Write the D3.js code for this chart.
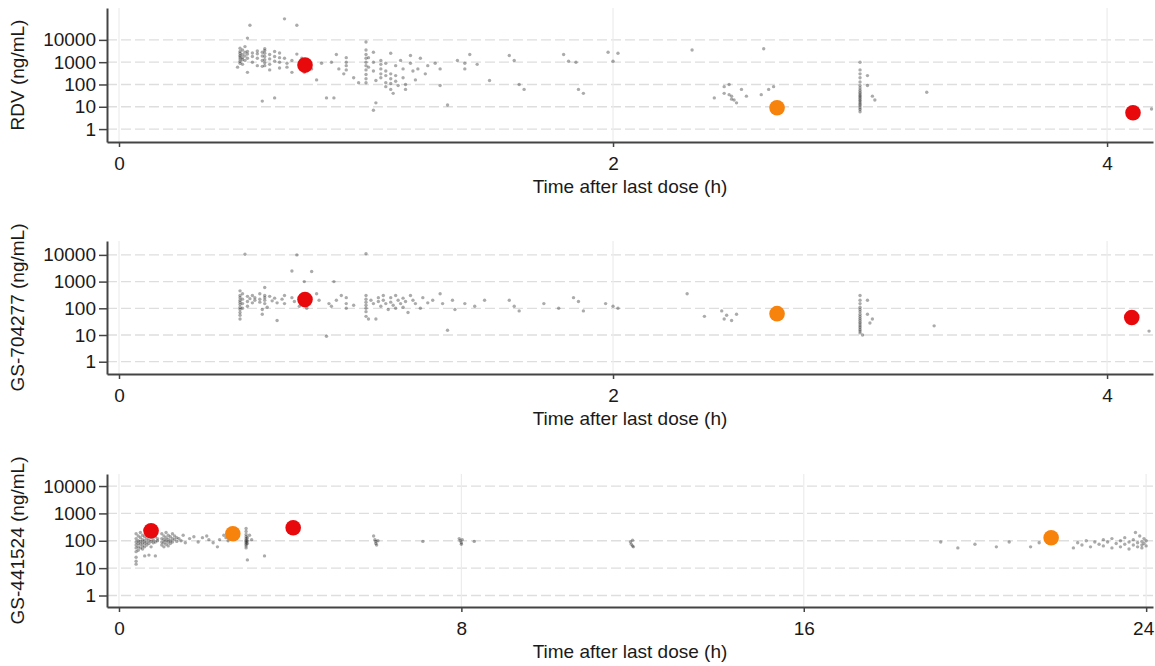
<!DOCTYPE html>
<html lang="en">
<head>
  <meta charset="UTF-8">
  <title>Concentration vs time after last dose</title>
  <script src="https://d3js.org/d3.v7.min.js"></script>
  <style>
    body { margin: 0; background: #fff; font-family: "Liberation Sans", Arial, sans-serif; }
    .axis path, .axis line { stroke: #444; }
    .axis path { stroke-width: 2; }
    .axis line { stroke-width: 1.5; }
    .axis text { font-size: 19px; fill: #1a1a1a; font-family: "Liberation Sans", Arial, sans-serif; }
    .grid-h { stroke: #dedede; stroke-width: 1.3; stroke-dasharray: 10,4; }
    .grid-v { stroke: #ececec; stroke-width: 1.2; }
    .label { font-size: 19px; fill: #1a1a1a; }
  </style>
</head>
<body>
<div id="chart"></div>
<script>
  // observed concentrations: [time after last dose (h), conc (ng/mL)]
  const rdvObs = [
    [0.49,4200],[0.49,3000],[0.49,2500],[0.49,2000],[0.49,1700],[0.49,1400],[0.49,1100],[0.49,900],[0.48,600],
    [0.50,3500],[0.50,2200],[0.50,1600],[0.50,1300],[0.50,800],
    [0.51,5000],[0.51,2800],[0.51,1900],[0.51,1200],
    [0.52,12000],[0.52,3000],[0.52,2300],[0.52,1500],[0.52,350],
    [0.54,2600],[0.54,1800],[0.54,1000],
    [0.56,3200],[0.56,2400],[0.56,1500],[0.56,700],
    [0.58,2800],[0.58,1900],[0.58,1200],[0.58,650],[0.58,18],
    [0.59,4000],[0.59,3300],[0.59,2500],[0.59,1800],[0.59,1300],[0.59,950],[0.59,700],
    [0.61,2200],[0.61,1400],[0.61,800],[0.61,450],
    [0.63,3000],[0.63,1800],[0.63,1100],[0.63,25],
    [0.65,2600],[0.65,1600],[0.65,1000],[0.65,550],
    [0.53,45000],[0.67,88000],[0.72,45000],
    [0.67,1500],[0.68,900],[0.68,600],[0.70,1200],[0.70,350],
    [0.72,2300],[0.74,1500],[0.75,350],[0.77,1100],[0.78,500],[0.80,160],[0.82,900],[0.84,25],[0.87,25],
    [0.88,2200],[0.86,1000],[0.89,500],[0.91,300],[0.92,1600],[0.92,1000],[0.92,700],[0.92,450],[0.95,200],[0.97,120],
    [1.00,8000],[1.00,3500],[1.00,2200],[1.00,1500],[1.00,1000],[1.00,700],[1.00,450],[1.00,280],[1.00,180],[1.00,120],
    [1.01,1600],[1.01,600],[1.03,2800],[1.03,1000],[1.03,400],[1.04,150],[1.04,15],[1.03,7],
    [1.06,1200],[1.06,800],[1.06,500],[1.06,300],[1.06,200],
    [1.08,900],[1.08,400],[1.08,250],[1.08,120],[1.08,80],
    [1.10,2500],[1.10,300],[1.10,180],[1.10,110],[1.10,60],[1.11,40],
    [1.12,700],[1.12,250],[1.12,140],[1.13,90],[1.14,1200],
    [1.15,500],[1.15,200],[1.16,100],[1.16,60],
    [1.18,2000],[1.18,900],[1.19,400],[1.20,160],[1.21,500],[1.22,1500],[1.24,300],[1.25,700],[1.28,900],[1.30,500],[1.30,90],[1.33,12],
    [1.37,1200],[1.40,900],[1.40,500],[1.42,2200],[1.45,800],[1.50,150],[1.58,2000],[1.60,1200],[1.62,100],[1.64,60],
    [1.80,2200],[1.82,1100],[1.85,1000],[1.86,60],[1.88,40],[1.98,2800],[2.00,1100],[2.02,2500],
    [2.32,3500],[2.41,25],[2.45,40],[2.45,80],[2.47,100],[2.47,35],[2.48,30],[2.48,22],[2.49,20],[2.50,15],[2.52,60],[2.54,30],
    [2.61,4000],[2.60,35],[2.63,60],[2.65,80],
    [3.00,1000],[3.00,450],[3.00,300],[3.00,200],[3.00,130],[3.00,90],[3.00,70],[3.00,55],[3.00,45],[3.00,38],[3.00,32],
    [3.00,28],[3.00,24],[3.00,20],[3.00,18],[3.00,15],[3.00,13],[3.00,11],[3.00,9],[3.00,7.5],[3.00,6],
    [3.03,250],[3.03,90],[3.05,30],[3.06,20],[3.27,45],[4.18,8]
  ];

  const gs704277Obs = [
    [0.49,450],[0.49,300],[0.49,250],[0.49,200],[0.49,170],[0.49,140],[0.49,110],[0.49,90],[0.49,70],[0.49,55],[0.49,40],
    [0.50,350],[0.50,220],[0.50,150],[0.50,100],
    [0.51,10500],[0.52,280],[0.52,180],[0.52,120],[0.53,230],[0.54,300],[0.54,160],[0.55,250],[0.55,200],
    [0.57,350],[0.57,220],[0.57,170],[0.58,90],[0.58,60],[0.59,600],[0.59,300],[0.59,250],[0.59,200],[0.59,150],[0.60,110],
    [0.61,280],[0.62,190],[0.63,240],[0.64,160],[0.64,35],[0.66,220],[0.67,300],[0.67,150],
    [0.70,250],[0.70,2500],[0.72,10000],[0.71,180],[0.73,120],[0.75,1000],[0.78,2400],[0.76,100],[0.80,350],[0.81,200],
    [0.84,9],[0.85,150],[0.87,1000],[0.88,200],[0.86,120],[0.90,300],[0.92,250],[0.92,150],[0.92,100],[0.95,130],
    [1.00,11000],[1.00,300],[1.00,220],[1.00,170],[1.00,130],[1.00,100],[1.00,75],[1.00,50],[1.01,40],
    [1.02,200],[1.03,150],[1.04,40],[1.05,250],[1.05,180],[1.06,120],[1.07,300],[1.07,200],[1.08,150],[1.09,90],
    [1.10,250],[1.10,170],[1.11,130],[1.12,100],[1.12,300],[1.13,200],[1.14,150],[1.15,240],[1.15,110],[1.16,180],
    [1.17,70],[1.18,300],[1.19,200],[1.20,150],[1.22,100],[1.23,250],[1.25,160],[1.27,200],[1.30,350],[1.31,150],[1.33,15],
    [1.35,200],[1.36,90],[1.40,150],[1.44,120],[1.48,200],[1.58,200],[1.60,120],[1.62,80],[1.72,150],[1.78,100],
    [1.84,250],[1.86,180],[1.88,80],[1.97,150],[2.00,120],[2.02,100],
    [2.30,350],[2.37,50],[2.44,80],[2.45,40],[2.46,55],[2.48,35],[2.50,60],
    [3.00,300],[3.00,200],[3.00,150],[3.00,110],[3.00,90],[3.00,75],[3.00,60],[3.00,50],[3.00,42],[3.00,36],[3.00,30],
    [3.00,26],[3.00,22],[3.00,19],[3.00,16],[3.00,14],[3.00,12],[3.01,10],
    [3.03,200],[3.03,60],[3.05,40],[3.04,28],[3.30,22],[4.17,14]
  ];

  const gs441524Obs = [
    [0.40,180],[0.40,120],[0.40,90],[0.40,70],[0.40,55],[0.40,40],[0.40,25],[0.40,18],[0.40,14],
    [0.45,150],[0.45,100],[0.45,80],[0.45,60],[0.45,45],
    [0.50,200],[0.50,130],[0.50,95],[0.50,75],[0.50,55],
    [0.55,160],[0.55,110],[0.55,85],[0.55,65],[0.55,50],
    [0.60,250],[0.60,140],[0.60,100],[0.60,80],[0.60,60],[0.60,28],
    [0.65,180],[0.65,120],[0.65,90],[0.65,70],[0.70,150],[0.70,105],[0.70,80],[0.70,30],
    [0.75,130],[0.75,95],[0.75,60],[0.80,110],[0.80,85],[0.85,140],[0.85,90],[0.85,28],[0.90,120],[0.90,100],
    [1.00,180],[1.00,120],[1.00,90],[1.00,70],[1.05,150],[1.05,110],[1.05,85],[1.05,60],
    [1.10,200],[1.10,130],[1.10,100],[1.10,75],[1.15,160],[1.15,115],[1.15,90],[1.15,65],
    [1.20,140],[1.20,100],[1.20,80],[1.25,180],[1.25,120],[1.25,90],[1.30,150],[1.30,110],
    [1.35,130],[1.35,95],[1.40,120],[1.45,100],[1.50,160],[1.55,85],
    [1.65,120],[1.75,140],[1.85,90],[1.95,130],[2.05,150],[2.10,110],[2.20,85],[2.30,60],[2.35,110],
    [2.45,160],[2.50,130],[2.55,100],[2.60,150],[2.65,120],[2.70,190],
    [2.97,280],[2.97,220],[2.97,170],[2.97,140],[2.97,120],[2.97,105],[2.97,95],[2.97,85],[2.97,75],[2.97,65],[2.97,55],
    [3.00,130],[3.00,100],[3.00,80],[3.00,20],[3.05,160],[3.10,110],[3.40,28],
    [5.95,150],[5.98,110],[6.00,95],[6.00,80],[6.02,70],[6.05,100],[7.10,95],
    [7.95,120],[7.97,100],[8.00,85],[8.00,75],[8.02,110],[8.30,95],
    [11.95,90],[11.97,75],[12.00,65],[12.00,105],[12.02,60],
    [19.20,90],[19.60,55],[20.00,75],[20.50,60],[20.80,90],[21.30,60],[21.50,85],
    [22.30,55],[22.40,85],[22.50,70],[22.60,100],[22.70,60],[22.80,90],[22.90,75],[23.00,110],[23.00,65],[23.10,90],
    [23.20,55],[23.20,120],[23.30,80],[23.40,100],[23.40,60],[23.50,75],[23.50,130],[23.60,90],[23.60,50],[23.70,70],
    [23.70,110],[23.80,85],[23.80,60],[23.85,150],[23.90,95],[23.90,70],[23.90,55],[23.95,120],[23.95,80],[24.00,65],
    [24.00,100],[23.75,200]
  ];

  // highlighted points
  const rdvRed = [[0.753,740],[4.105,5.4]];
  const rdvOrange = [[2.664,9]];
  const gs704277Red = [[0.753,212],[4.10,45]];
  const gs704277Orange = [[2.664,63]];
  const gs441524Red = [[0.75,232],[4.07,300]];
  const gs441524Orange = [[2.66,180],[21.78,129]];

  const concTicks = [1, 10, 100, 1000, 10000];
  const shortTimeTicks = [0, 2, 4];
  const longTimeTicks = [0, 8, 16, 24];
  const yLabels = ["RDV (ng/mL)", "GS-704277 (ng/mL)", "GS-441524 (ng/mL)"];
  const xLabel = "Time after last dose (h)";

  const W = 1155, H = 666;
  const left = 107, right = 1153;

  const panels = [
    { top: 8,   bottom: 142, yDom: [-0.58, 5.43], xDom: [-0.0486, 4.186], ticks: shortTimeTicks, obs: rdvObs, red: rdvRed, orange: rdvOrange },
    { top: 241, bottom: 374, yDom: [-0.46, 4.52], xDom: [-0.0486, 4.186], ticks: shortTimeTicks, obs: gs704277Obs, red: gs704277Red, orange: gs704277Orange },
    { top: 474, bottom: 607, yDom: [-0.42, 4.44], xDom: [-0.28, 24.16], ticks: longTimeTicks, obs: gs441524Obs, red: gs441524Red, orange: gs441524Orange }
  ];

  const svg = d3.select("#chart").append("svg")
    .attr("width", W)
    .attr("height", H);

  panels.forEach((p, i) => {
    const x = d3.scaleLinear().domain(p.xDom).range([left, right]);
    const y = d3.scaleLog().domain(p.yDom.map(v => Math.pow(10, v))).range([p.bottom, p.top]);
    const g = svg.append("g");

    // gridlines
    g.selectAll(".grid-h").data(concTicks).enter().append("line")
      .attr("class", "grid-h")
      .attr("x1", left).attr("x2", right)
      .attr("y1", d => y(d)).attr("y2", d => y(d));
    g.selectAll(".grid-v").data(p.ticks).enter().append("line")
      .attr("class", "grid-v")
      .attr("x1", d => x(d)).attr("x2", d => x(d))
      .attr("y1", p.top).attr("y2", p.bottom);

    // observed points
    g.append("g").selectAll("circle").data(p.obs).enter().append("circle")
      .attr("cx", d => x(d[0]))
      .attr("cy", d => y(d[1]))
      .attr("r", 1.7)
      .attr("fill", "#000")
      .attr("fill-opacity", 0.33);

    g.append("g").selectAll("circle").data(p.orange).enter().append("circle")
      .attr("cx", d => x(d[0]))
      .attr("cy", d => y(d[1]))
      .attr("r", 7.8)
      .attr("fill", "#f7820c");
    g.append("g").selectAll("circle").data(p.red).enter().append("circle")
      .attr("cx", d => x(d[0]))
      .attr("cy", d => y(d[1]))
      .attr("r", 7.8)
      .attr("fill", "#e8090d");

    // axes
    const xAxis = g.append("g")
      .attr("class", "axis")
      .attr("transform", `translate(0,${p.bottom})`)
      .call(d3.axisBottom(x).tickValues(p.ticks).tickSize(5).tickSizeOuter(0).tickPadding(10).tickFormat(d3.format("d")));
    // keep the last label inside the page edge
    xAxis.selectAll(".tick text").filter(d => d === 24).attr("dx", "-3");
    g.append("g")
      .attr("class", "axis")
      .attr("transform", `translate(${left},0)`)
      .call(d3.axisLeft(y).tickValues(concTicks).tickSize(8).tickSizeOuter(0).tickPadding(3).tickFormat(d3.format("d")));

    g.append("text")
      .attr("class", "label")
      .attr("x", (left + right) / 2)
      .attr("y", p.bottom + 51)
      .attr("text-anchor", "middle")
      .text(xLabel);
    g.append("text")
      .attr("class", "label")
      .attr("transform", `translate(24,${(p.top + p.bottom) / 2}) rotate(-90)`)
      .attr("text-anchor", "middle")
      .text(yLabels[i]);
  });
</script>
</body>
</html>
